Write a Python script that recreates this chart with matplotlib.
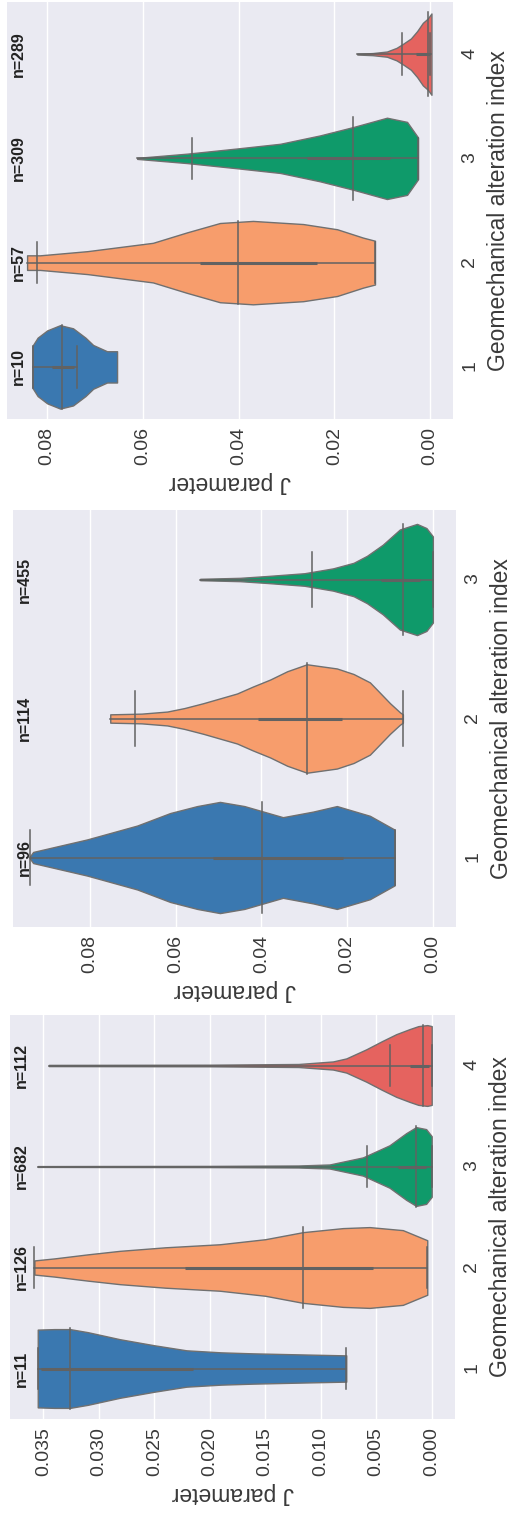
import matplotlib.pyplot as plt
from matplotlib.transforms import blended_transform_factory

plt.rcParams['font.family'] = ['Liberation Sans', 'DejaVu Sans']

colors = ["#3a78b0", "#f79d6c", "#0f9a6a", "#e5635f"]
xlabel = "J parameter"
ylabel = "Geomechanical alteration index"

# ---- panel A (bottom): 4 classes ----
A_n = [11, 126, 682, 112]
A_ticks = [0.035, 0.030, 0.025, 0.020, 0.015, 0.010, 0.005, 0.000]
A_lim = (0.0380, -0.0021)
A_prof_v = [
    [0.0077, 0.012, 0.0161, 0.019, 0.0221, 0.025, 0.0281, 0.031, 0.0326, 0.034, 0.0355],
    [0.0004, 0.0026, 0.0056, 0.008, 0.0116, 0.015, 0.0191, 0.024, 0.0281, 0.031, 0.034, 0.0358],
    [0.0, 0.0005, 0.0014, 0.0023, 0.0038, 0.0062, 0.0092, 0.012, 0.02, 0.03, 0.0355],
    [0.0, 0.0004, 0.0012, 0.002, 0.0032, 0.0045, 0.0059, 0.0077, 0.0089, 0.012, 0.02, 0.0345],
]
A_prof_w = [
    [0.13, 0.14, 0.15, 0.16, 0.18, 0.23, 0.29, 0.36, 0.39, 0.39, 0.385],
    [0.27, 0.37, 0.40, 0.39, 0.35, 0.28, 0.23, 0.20, 0.165, 0.13, 0.09, 0.07],
    [0.30, 0.37, 0.39, 0.33, 0.21, 0.09, 0.02, 0.01, 0.006, 0.005, 0.004],
    [0.39, 0.40, 0.39, 0.36, 0.31, 0.24, 0.16, 0.07, 0.04, 0.015, 0.008, 0.006],
]
A_median = [0.0326, 0.0116, 0.0014, 0.0008]
A_caps = [[0.0355, 0.0077], [0.0358, 0.0004], [0.0058, 0.0], [0.0038, 0.0]]
A_whisk = [[0.0077, 0.0355], [0.0004, 0.0358], [0.0, 0.0355], [0.0, 0.0345]]
A_iqr = [[0.0215, 0.0352], [0.0053, 0.0222], [0.0005, 0.003], [0.0002, 0.002]]

# ---- panel B (middle): 3 classes ----
B_n = [96, 114, 455]
B_ticks = [0.08, 0.06, 0.04, 0.02, 0.00]
B_lim = (0.098, -0.0054)
B_prof_v = [
    [0.0089, 0.0147, 0.0224, 0.028, 0.035, 0.044, 0.0497, 0.055, 0.0613, 0.069, 0.0807, 0.0933, 0.094],
    [0.007, 0.0077, 0.01, 0.0125, 0.0147, 0.0185, 0.0224, 0.0294, 0.034, 0.038, 0.042, 0.0457,
     0.0536, 0.058, 0.062, 0.068, 0.0753],
    [0.0, 0.0015, 0.0037, 0.0077, 0.0117, 0.0154, 0.0185, 0.0233, 0.03, 0.0387, 0.045, 0.0543],
]
B_prof_w = [
    [0.20, 0.30, 0.37, 0.33, 0.29, 0.37, 0.40, 0.37, 0.32, 0.23, 0.13, 0.04, 0.01],
    [0.03, 0.045, 0.11, 0.19, 0.26, 0.32, 0.36, 0.39, 0.34, 0.28, 0.23, 0.18,
     0.11, 0.075, 0.05, 0.035, 0.03],
    [0.31, 0.37, 0.40, 0.36, 0.25, 0.17, 0.12, 0.08, 0.045, 0.025, 0.012, 0.005],
]
B_median = [0.0399, 0.0294, 0.007]
B_caps = [[0.094, 0.0089], [0.0695, 0.007], [0.0282, 0.0]]
B_whisk = [[0.0089, 0.094], [0.007, 0.0753], [0.0, 0.0543]]
B_iqr = [[0.021, 0.0513], [0.0212, 0.0408], [0.003, 0.012]]

# ---- panel C (top): 4 classes ----
C_n = [10, 57, 309, 289]
C_ticks = [0.08, 0.06, 0.04, 0.02, 0.00]
C_lim = (0.0884, -0.0048)
C_prof_v = [
    [0.0654, 0.0675, 0.0704, 0.072, 0.0746, 0.0773, 0.08, 0.082, 0.0831],
    [0.0115, 0.014, 0.0194, 0.0265, 0.037, 0.0439, 0.0508, 0.0579, 0.0716, 0.0815, 0.0842],
    [0.0025, 0.0048, 0.009, 0.0161, 0.023, 0.0313, 0.0403, 0.0508, 0.0612],
    [-0.0003, 0.0005, 0.0015, 0.0027, 0.004, 0.0056, 0.007, 0.009, 0.012, 0.0152],
]
C_prof_w = [
    [0.15, 0.15, 0.21, 0.28, 0.37, 0.40, 0.35, 0.28, 0.20],
    [0.21, 0.24, 0.32, 0.37, 0.40, 0.38, 0.29, 0.19, 0.11, 0.07, 0.07],
    [0.20, 0.35, 0.39, 0.30, 0.22, 0.14, 0.095, 0.045, 0.005],
    [0.39, 0.34, 0.30, 0.22, 0.15, 0.10, 0.06, 0.025, 0.01, 0.004],
]
C_median = [0.0769, 0.0401, 0.0161, 0.0004]
C_caps = [[0.0737, 0.083], [0.0821, 0.0115], [0.0497, 0.0025], [0.0058, 0.0]]
C_whisk = [[0.0737, 0.083], [0.0115, 0.0842], [0.0025, 0.0612], [-0.0003, 0.0152]]
C_iqr = [[0.0745, 0.079], [0.0236, 0.048], [0.0084, 0.0257], [0.0, 0.003]]


def draw_panel(ax, n, ticks, fmt, lim, prof_v, prof_w, median, caps, whisk, iqr):
    line_c = "#626262"
    for i in range(len(n)):
        v = prof_v[i]
        w = prof_w[i]
        lo = [i - x for x in w]
        hi = [i + x for x in w]
        ax.fill_between(v, lo, hi, facecolor=colors[i], edgecolor="#707070",
                        linewidth=1.0, zorder=2)
        ax.plot(whisk[i], [i, i], color=line_c, lw=1.1, zorder=3)
        ax.plot(iqr[i], [i, i], color=line_c, lw=2.2, zorder=3, solid_capstyle="butt")
        ax.plot([median[i], median[i]], [i - 0.4, i + 0.4], color=line_c, lw=1.1, zorder=4)
        for c in caps[i]:
            ax.plot([c, c], [i - 0.2, i + 0.2], color=line_c, lw=1.1, zorder=4)
    trans = blended_transform_factory(ax.transAxes, ax.transData)
    for i, k in enumerate(n):
        ax.text(0.025, i, f"n={k}", transform=trans, rotation=90, ha="center",
                va="center", fontsize=11.5, fontweight="bold", color="#222222")

    ax.set_xlim(lim)
    ax.set_ylim(-0.5, len(n) - 0.5)
    ax.set_xticks(ticks)
    ax.set_xticklabels([fmt.format(t) for t in ticks])
    ax.set_yticks(range(len(n)))
    ax.set_yticklabels([str(i + 1) for i in range(len(n))])
    ax.yaxis.tick_right()
    ax.yaxis.set_label_position("right")
    ax.tick_params(axis="x", labelrotation=90, labelsize=14, length=0, pad=6, colors="#3a3a3a")
    ax.tick_params(axis="y", labelrotation=90, labelsize=14, length=0, pad=6, colors="#3a3a3a")
    ax.set_xlabel(xlabel, rotation=180, fontsize=16.5, color="#3a3a3a", labelpad=4)
    ax.set_ylabel(ylabel, rotation=90, fontsize=16.5, color="#3a3a3a", labelpad=6)
    ax.set_facecolor("#eaeaf2")
    ax.grid(axis="x", color="white", lw=1.0)
    ax.set_axisbelow(True)
    for s in ax.spines.values():
        s.set_visible(False)


fig = plt.figure(figsize=(5.1, 15.18), dpi=100)
axC = fig.add_axes([7 / 510, (1518 - 419) / 1518, 446 / 510, 417 / 1518])
axB = fig.add_axes([13 / 510, (1518 - 927) / 1518, 443 / 510, 417 / 1518])
axA = fig.add_axes([10 / 510, (1518 - 1419) / 1518, 445 / 510, 404 / 1518])

draw_panel(axA, A_n, A_ticks, "{:.3f}", A_lim, A_prof_v, A_prof_w, A_median, A_caps, A_whisk, A_iqr)
draw_panel(axB, B_n, B_ticks, "{:.2f}", B_lim, B_prof_v, B_prof_w, B_median, B_caps, B_whisk, B_iqr)
draw_panel(axC, C_n, C_ticks, "{:.2f}", C_lim, C_prof_v, C_prof_w, C_median, C_caps, C_whisk, C_iqr)

fig.savefig("out.png", dpi=100)
